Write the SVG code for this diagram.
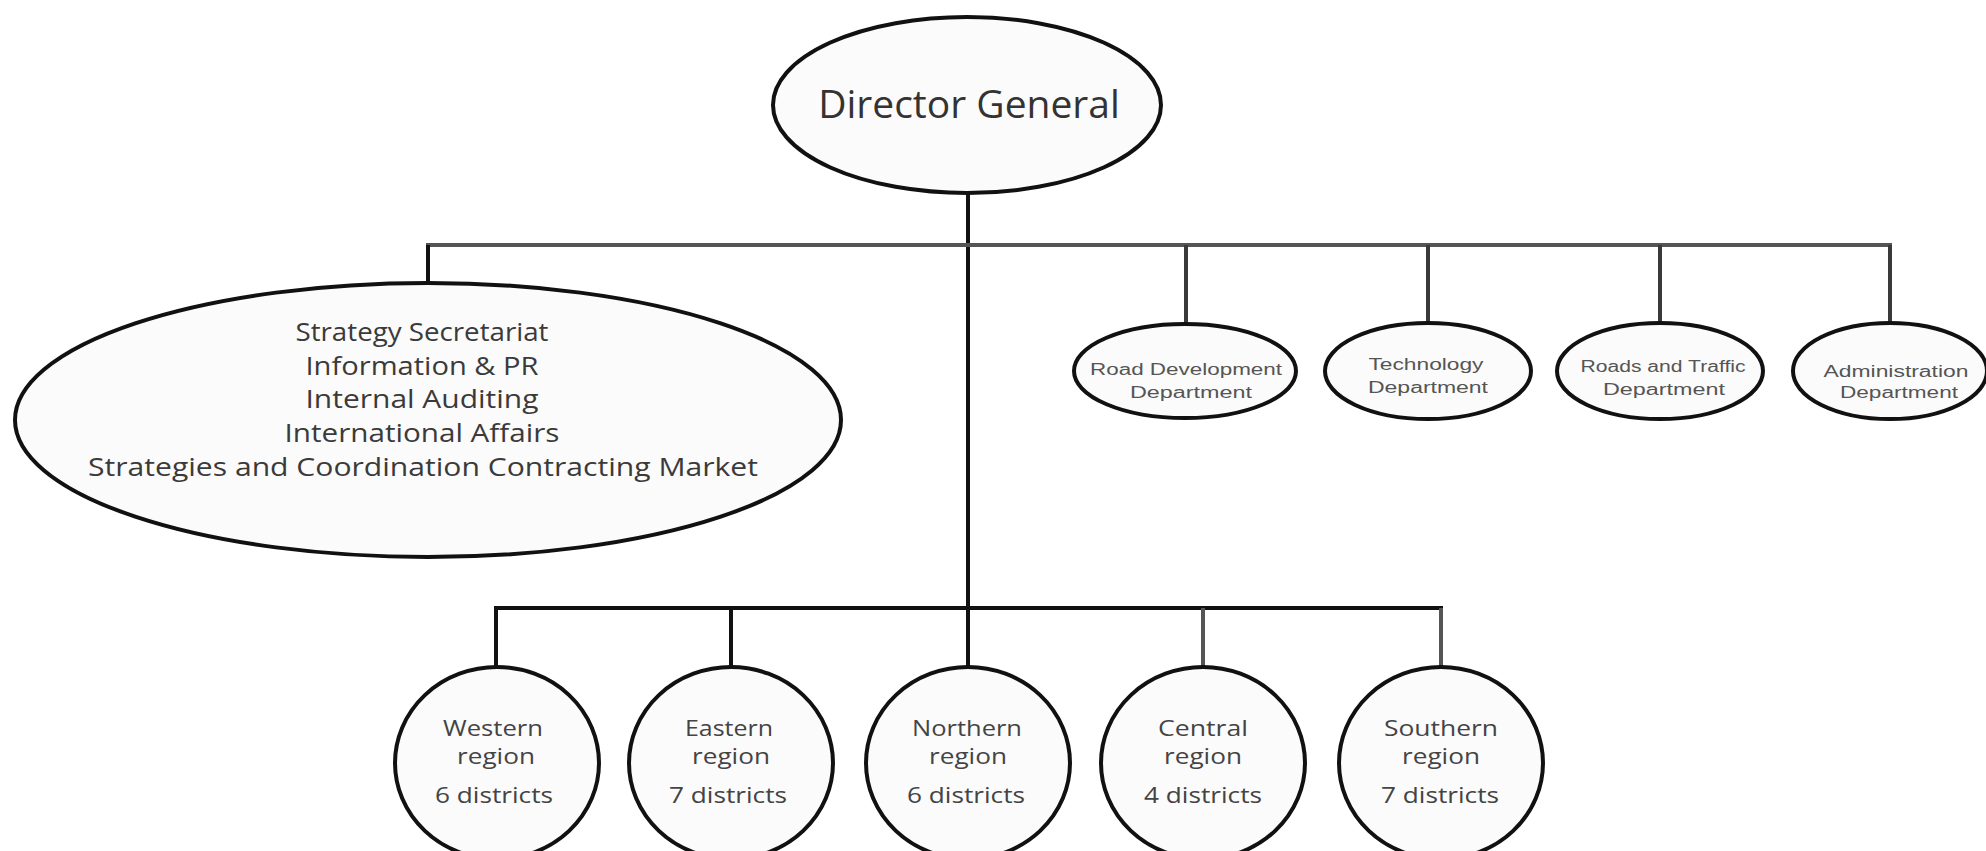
<svg xmlns="http://www.w3.org/2000/svg" width="1986" height="851" viewBox="0 0 1986 851">
  <style>
    .node { fill: #fbfbfb; stroke: #111; stroke-width: 4; }
    .wire { fill: none; stroke: #111; stroke-width: 4; stroke-linecap: butt; }
    .wire-grey { stroke: #555; }
    .wire-mid { stroke: #3a3a3a; }
    .head { font-family: "Open Sans", "Noto Sans", sans-serif; font-size: 39px; fill: #333; text-anchor: middle; }
    .office { font-family: "Open Sans", "Noto Sans", sans-serif; font-size: 26px; fill: #3a3a3a; text-anchor: middle; }
    .dept { font-family: "Liberation Sans", Arial, sans-serif; font-size: 16px; fill: #555; text-anchor: middle; }
    .region { font-family: "Open Sans", "Noto Sans", sans-serif; font-size: 22px; fill: #444; text-anchor: middle; }
  </style>

  <rect width="1986" height="851" fill="#ffffff"/>

  <!-- connectors -->
  <g id="connectors">
    <!-- trunk from the Director General down to the regional bar -->
    <line class="wire" x1="968" y1="193" x2="968" y2="667"/>
    <!-- upper distribution bar -->
    <line class="wire wire-grey" x1="426" y1="245" x2="1892" y2="245"/>
    <line class="wire" x1="428" y1="245" x2="428" y2="283"/>
    <line class="wire wire-mid" x1="1186" y1="245" x2="1186" y2="324"/>
    <line class="wire wire-mid" x1="1428" y1="245" x2="1428" y2="324"/>
    <line class="wire wire-mid" x1="1660" y1="245" x2="1660" y2="324"/>
    <line class="wire wire-mid" x1="1890" y1="245" x2="1890" y2="324"/>
    <!-- regional bar -->
    <line class="wire" x1="494" y1="608" x2="1443" y2="608"/>
    <line class="wire" x1="496" y1="608" x2="496" y2="668"/>
    <line class="wire" x1="731" y1="608" x2="731" y2="668"/>
    <line class="wire wire-grey" x1="1203" y1="608" x2="1203" y2="668"/>
    <line class="wire wire-grey" x1="1441" y1="608" x2="1441" y2="668"/>
  </g>

  <!-- top of the hierarchy -->
  <g id="director-general">
    <ellipse class="node" cx="967" cy="105" rx="194" ry="88"/>
    <text class="head" x="969" y="118">Director General</text>
  </g>

  <!-- staff offices attached directly to the Director General -->
  <g id="staff-offices">
    <ellipse class="node" cx="428" cy="420" rx="413" ry="137"/>
    <text class="office" x="422" y="341" textLength="253" lengthAdjust="spacingAndGlyphs">Strategy Secretariat</text>
    <text class="office" x="422" y="375" textLength="233" lengthAdjust="spacingAndGlyphs">Information &amp; PR</text>
    <text class="office" x="422" y="408" textLength="233" lengthAdjust="spacingAndGlyphs">Internal Auditing</text>
    <text class="office" x="422" y="442" textLength="275" lengthAdjust="spacingAndGlyphs">International Affairs</text>
    <text class="office" x="423" y="476" textLength="670" lengthAdjust="spacingAndGlyphs">Strategies and Coordination Contracting Market</text>
  </g>

  <!-- departments -->
  <g id="road-development-department">
    <ellipse class="node" cx="1185" cy="371" rx="111" ry="47"/>
    <text class="dept" x="1186" y="375" textLength="192" lengthAdjust="spacingAndGlyphs">Road Development</text>
    <text class="dept" x="1191" y="398" textLength="122" lengthAdjust="spacingAndGlyphs">Department</text>
  </g>
  <g id="technology-department">
    <ellipse class="node" cx="1428" cy="371" rx="103" ry="48"/>
    <text class="dept" x="1426" y="370" textLength="115" lengthAdjust="spacingAndGlyphs">Technology</text>
    <text class="dept" x="1428" y="393" textLength="120" lengthAdjust="spacingAndGlyphs">Department</text>
  </g>
  <g id="roads-and-traffic-department">
    <ellipse class="node" cx="1660" cy="371" rx="103" ry="48"/>
    <text class="dept" x="1663" y="372" textLength="165" lengthAdjust="spacingAndGlyphs">Roads and Traffic</text>
    <text class="dept" x="1664" y="395" textLength="122" lengthAdjust="spacingAndGlyphs">Department</text>
  </g>
  <g id="administration-department">
    <ellipse class="node" cx="1890" cy="371" rx="97" ry="48"/>
    <text class="dept" x="1896" y="377" textLength="145" lengthAdjust="spacingAndGlyphs">Administration</text>
    <text class="dept" x="1899" y="398" textLength="118" lengthAdjust="spacingAndGlyphs">Department</text>
  </g>

  <!-- regions -->
  <g id="western-region">
    <ellipse class="node" cx="497" cy="763" rx="102" ry="96"/>
    <text class="region" x="493" y="736" textLength="100" lengthAdjust="spacingAndGlyphs">Western</text>
    <text class="region" x="496" y="764" textLength="78" lengthAdjust="spacingAndGlyphs">region</text>
    <text class="region" x="494" y="803" textLength="118" lengthAdjust="spacingAndGlyphs">6 districts</text>
  </g>
  <g id="eastern-region">
    <ellipse class="node" cx="731" cy="763" rx="102" ry="96"/>
    <text class="region" x="729" y="736" textLength="88" lengthAdjust="spacingAndGlyphs">Eastern</text>
    <text class="region" x="731" y="764" textLength="78" lengthAdjust="spacingAndGlyphs">region</text>
    <text class="region" x="728" y="803" textLength="118" lengthAdjust="spacingAndGlyphs">7 districts</text>
  </g>
  <g id="northern-region">
    <ellipse class="node" cx="968" cy="763" rx="102" ry="96"/>
    <text class="region" x="967" y="736" textLength="110" lengthAdjust="spacingAndGlyphs">Northern</text>
    <text class="region" x="968" y="764" textLength="78" lengthAdjust="spacingAndGlyphs">region</text>
    <text class="region" x="966" y="803" textLength="118" lengthAdjust="spacingAndGlyphs">6 districts</text>
  </g>
  <g id="central-region">
    <ellipse class="node" cx="1203" cy="763" rx="102" ry="96"/>
    <text class="region" x="1203" y="736" textLength="90" lengthAdjust="spacingAndGlyphs">Central</text>
    <text class="region" x="1203" y="764" textLength="78" lengthAdjust="spacingAndGlyphs">region</text>
    <text class="region" x="1203" y="803" textLength="118" lengthAdjust="spacingAndGlyphs">4 districts</text>
  </g>
  <g id="southern-region">
    <ellipse class="node" cx="1441" cy="763" rx="102" ry="96"/>
    <text class="region" x="1441" y="736" textLength="114" lengthAdjust="spacingAndGlyphs">Southern</text>
    <text class="region" x="1441" y="764" textLength="78" lengthAdjust="spacingAndGlyphs">region</text>
    <text class="region" x="1440" y="803" textLength="118" lengthAdjust="spacingAndGlyphs">7 districts</text>
  </g>
</svg>
